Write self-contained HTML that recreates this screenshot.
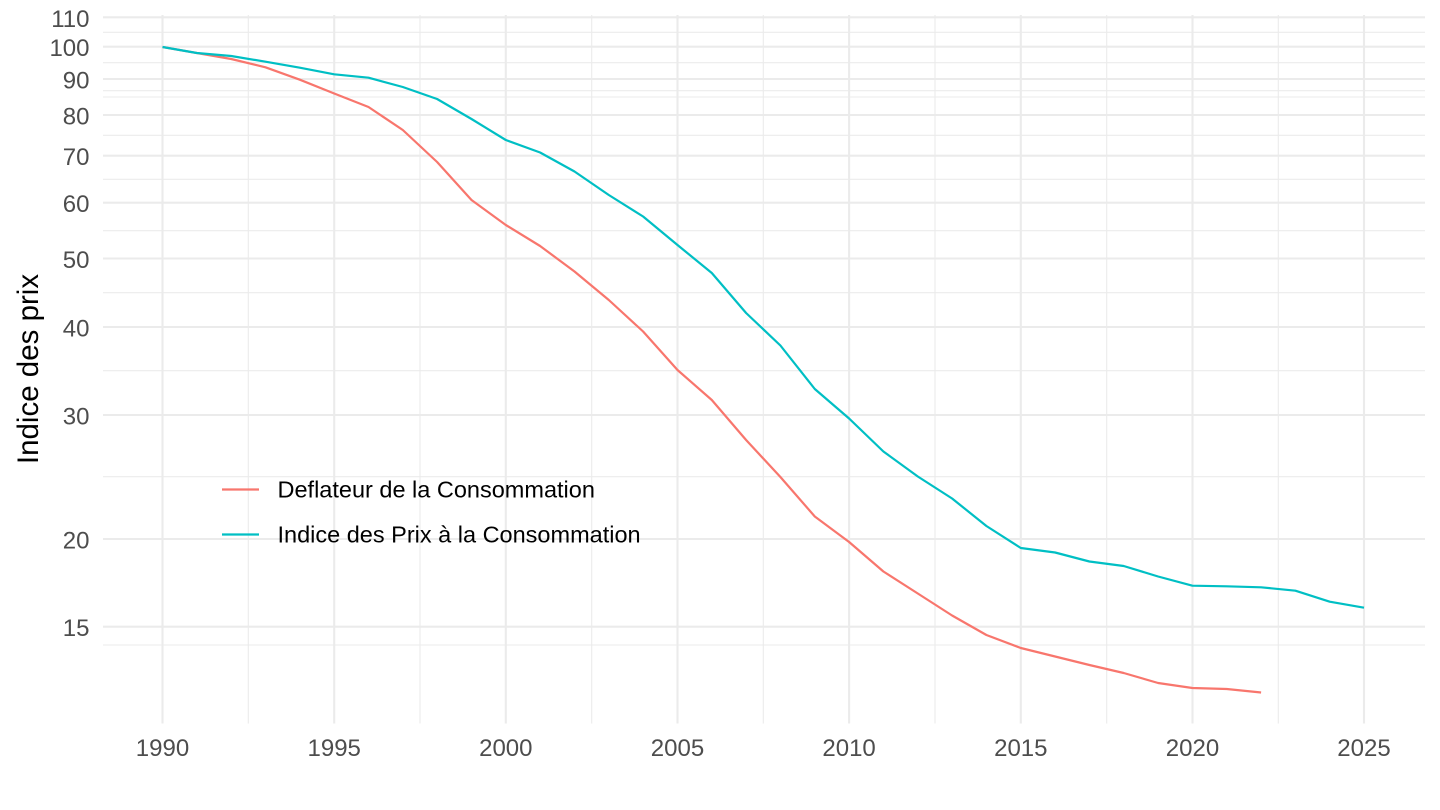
<!DOCTYPE html>
<html>
<head>
<meta charset="utf-8">
<style>
  html, body { margin: 0; padding: 0; background: #ffffff; }
  svg { display: block; }
  text { font-family: "Liberation Sans", Arial, Helvetica, sans-serif; }
</style>
</head>
<body>
<svg width="1440" height="810" viewBox="0 0 1440 810" xmlns="http://www.w3.org/2000/svg">
  <rect x="0" y="0" width="1440" height="810" fill="#ffffff"/>

  <!-- minor horizontal grid -->
  <g stroke="#ebebeb" stroke-width="1.1" fill="none">
    <line x1="103" x2="1425" y1="32.3" y2="32.3"/>
    <line x1="103" x2="1425" y1="62.7" y2="62.7"/>
    <line x1="103" x2="1425" y1="90.7" y2="90.7"/>
    <line x1="103" x2="1425" y1="97" y2="97"/>
    <line x1="103" x2="1425" y1="135.3" y2="135.3"/>
    <line x1="103" x2="1425" y1="179.3" y2="179.3"/>
    <line x1="103" x2="1425" y1="230.7" y2="230.7"/>
    <line x1="103" x2="1425" y1="292.7" y2="292.7"/>
    <line x1="103" x2="1425" y1="370.7" y2="370.7"/>
    <line x1="103" x2="1425" y1="476.7" y2="476.7"/>
    <line x1="103" x2="1425" y1="645" y2="645"/>
  </g>
  <!-- minor vertical grid -->
  <g stroke="#ebebeb" stroke-width="1.1" fill="none">
    <line x1="248.3" x2="248.3" y1="15" y2="723.5"/>
    <line x1="420" x2="420" y1="15" y2="723.5"/>
    <line x1="591.7" x2="591.7" y1="15" y2="723.5"/>
    <line x1="763.3" x2="763.3" y1="15" y2="723.5"/>
    <line x1="935" x2="935" y1="15" y2="723.5"/>
    <line x1="1106.7" x2="1106.7" y1="15" y2="723.5"/>
    <line x1="1278.3" x2="1278.3" y1="15" y2="723.5"/>
  </g>
  <!-- major horizontal grid -->
  <g stroke="#ebebeb" stroke-width="2.1" fill="none">
    <line x1="103" x2="1425" y1="17.3" y2="17.3"/>
    <line x1="103" x2="1425" y1="46.7" y2="46.7"/>
    <line x1="103" x2="1425" y1="79" y2="79"/>
    <line x1="103" x2="1425" y1="115" y2="115"/>
    <line x1="103" x2="1425" y1="155.7" y2="155.7"/>
    <line x1="103" x2="1425" y1="202.7" y2="202.7"/>
    <line x1="103" x2="1425" y1="258.5" y2="258.5"/>
    <line x1="103" x2="1425" y1="327" y2="327"/>
    <line x1="103" x2="1425" y1="415" y2="415"/>
    <line x1="103" x2="1425" y1="539" y2="539"/>
    <line x1="103" x2="1425" y1="626.7" y2="626.7"/>
  </g>
  <!-- major vertical grid -->
  <g stroke="#ebebeb" stroke-width="2.1" fill="none">
    <line x1="162.5" x2="162.5" y1="15" y2="723.5"/>
    <line x1="334.2" x2="334.2" y1="15" y2="723.5"/>
    <line x1="505.8" x2="505.8" y1="15" y2="723.5"/>
    <line x1="677.5" x2="677.5" y1="15" y2="723.5"/>
    <line x1="849.1" x2="849.1" y1="15" y2="723.5"/>
    <line x1="1020.8" x2="1020.8" y1="15" y2="723.5"/>
    <line x1="1192.5" x2="1192.5" y1="15" y2="723.5"/>
    <line x1="1364" x2="1364" y1="15" y2="723.5"/>
  </g>

  <!-- Deflateur (red) -->
  <polyline fill="none" stroke="#F8766D" stroke-width="2.2" stroke-linejoin="round" stroke-linecap="butt"
    points="162.5,47 196.8,53 231.2,59 265.5,67.3 299.8,79.7 334.2,93.5 368.5,107 402.8,130 437.1,162 471.5,200 505.8,225 540.1,246 574.5,271.5 608.8,300 643.1,331.5 677.5,370 711.8,400 746.1,440 780.4,477 814.8,516.5 849.1,542 883.4,571.5 917.8,593.5 952.1,615.5 986.4,635 1020.8,648 1055.1,656.5 1089.4,665 1123.7,673 1158.1,683 1192.4,688 1226.7,689 1261.1,692.5"/>

  <!-- IPC (cyan) -->
  <polyline fill="none" stroke="#00BFC4" stroke-width="2.2" stroke-linejoin="round" stroke-linecap="butt"
    points="162.5,47 196.8,53 231.2,56 265.5,61.7 299.8,67.7 334.2,74.3 368.5,77.7 402.8,87 437.1,99 471.5,119 505.8,140 540.1,152.5 574.5,171.5 608.8,195 643.1,216.5 677.5,245 711.8,273 746.1,313 780.4,345.5 814.8,389 849.1,418.5 883.4,451.5 917.8,476.5 952.1,498.5 986.4,526 1020.8,548 1055.1,552.5 1089.4,561.5 1123.7,566 1158.1,576.5 1192.4,585.7 1226.7,586.3 1261.1,587.3 1295.4,590.7 1329.7,601.7 1364,607.7"/>

  <!-- y tick labels -->
  <g fill="#4d4d4d" font-size="24" text-anchor="end">
    <text x="89.5" y="26.8">110</text>
    <text x="89.5" y="56.2">100</text>
    <text x="89.5" y="88.5">90</text>
    <text x="89.5" y="124.5">80</text>
    <text x="89.5" y="165.2">70</text>
    <text x="89.5" y="212.2">60</text>
    <text x="89.5" y="268">50</text>
    <text x="89.5" y="336.5">40</text>
    <text x="89.5" y="424.5">30</text>
    <text x="89.5" y="548.5">20</text>
    <text x="89.5" y="636.2">15</text>
  </g>

  <!-- x tick labels -->
  <g fill="#4d4d4d" font-size="24" text-anchor="middle">
    <text x="162.5" y="756">1990</text>
    <text x="334.2" y="756">1995</text>
    <text x="505.8" y="756">2000</text>
    <text x="677.5" y="756">2005</text>
    <text x="849.1" y="756">2010</text>
    <text x="1020.8" y="756">2015</text>
    <text x="1192.5" y="756">2020</text>
    <text x="1364" y="756">2025</text>
  </g>

  <!-- y axis title -->
  <text x="0" y="0" font-size="29.5" fill="#000000" text-anchor="middle" transform="translate(38,369) rotate(-90)">Indice des prix</text>

  <!-- legend -->
  <line x1="222" x2="259" y1="489.5" y2="489.5" stroke="#F8766D" stroke-width="2.2"/>
  <line x1="222" x2="259" y1="534.5" y2="534.5" stroke="#00BFC4" stroke-width="2.2"/>
  <g fill="#000000" font-size="23.5">
    <text x="277.5" y="497.5">Deflateur de la Consommation</text>
    <text x="277.5" y="542.5">Indice des Prix à la Consommation</text>
  </g>
</svg>
</body>
</html>
